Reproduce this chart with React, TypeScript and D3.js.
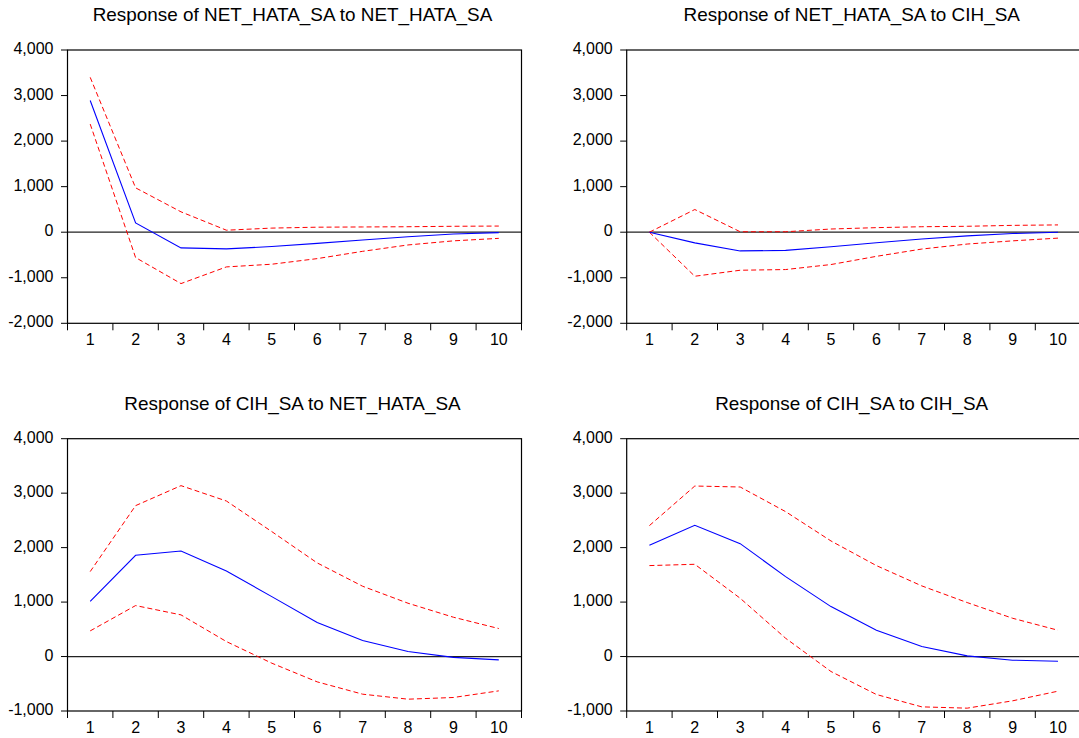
import React from "react";
import * as d3 from "d3";

const periods = [1, 2, 3, 4, 5, 6, 7, 8, 9, 10];

const titles = [
  "Response of NET_HATA_SA to NET_HATA_SA",
  "Response of NET_HATA_SA to CIH_SA",
  "Response of CIH_SA to NET_HATA_SA",
  "Response of CIH_SA to CIH_SA",
];

// Panel 1: NET_HATA_SA -> NET_HATA_SA
const resp11 = [2890, 205, -345, -367, -315, -245, -170, -100, -40, -10];
const upper11 = [3400, 974, 447, 44, 90, 110, 115, 120, 130, 135];
const lower11 = [2374, -557, -1128, -762, -703, -580, -420, -280, -190, -135];

// Panel 2: NET_HATA_SA -> CIH_SA
const resp12 = [0, -235, -411, -400, -320, -230, -150, -80, -30, 0];
const upper12 = [0, 498, 10, 10, 70, 100, 120, 130, 150, 160];
const lower12 = [0, -967, -835, -820, -710, -530, -370, -260, -190, -130];

// Panel 3: CIH_SA -> NET_HATA_SA
const resp21 = [1015, 1859, 1939, 1572, 1100, 624, 294, 92, -15, -61];
const upper21 = [1560, 2771, 3138, 2856, 2294, 1719, 1291, 979, 722, 514];
const lower21 = [471, 936, 765, 275, -122, -465, -691, -783, -752, -630];

// Panel 4: CIH_SA -> CIH_SA
const resp22 = [2043, 2410, 2073, 1468, 917, 483, 183, 12, -67, -86];
const upper22 = [2404, 3131, 3113, 2661, 2122, 1670, 1297, 991, 703, 483];
const lower22 = [1670, 1694, 1070, 336, -275, -697, -924, -948, -813, -636];

const yTicksTop = [-2000, -1000, 0, 1000, 2000, 3000, 4000];
const yTicksBottom = [-1000, 0, 1000, 2000, 3000, 4000];

const fmt = d3
  .formatLocale({ decimal: ".", thousands: ",", grouping: [3], currency: ["", ""], minus: "-" })
  .format(",");

const FONT = "'Liberation Sans', Arial, sans-serif";

type PanelProps = {
  title: string;
  left: number;
  right: number;
  top: number;
  bottom: number;
  yDomain: [number, number];
  yTicks: number[];
  resp: number[];
  upper: number[];
  lower: number[];
};

function Panel(p: PanelProps) {
  const x = d3.scaleBand<number>().domain(periods).range([p.left, p.right]).padding(0);
  const y = d3.scaleLinear().domain(p.yDomain).range([p.bottom, p.top]);
  const bw = x.bandwidth();
  const cx = (d: number) => (x(d) as number) + bw / 2;
  const line = d3
    .line<number>()
    .x((_, i) => cx(periods[i]))
    .y((v) => y(v));
  const boundaries = [...periods.map((d) => x(d) as number), p.right];
  const titleX = (p.left + p.right) / 2 - 2;
  const titleY = p.top - 29;
  return (
    <g>
      <text
        x={0}
        y={0}
        transform={`translate(${titleX},${titleY}) scale(1.08,1)`}
        textAnchor="middle"
        fontFamily={FONT}
        fontSize={17.5}
        fill="#000"
      >
        {p.title}
      </text>
      {/* zero line */}
      <line x1={p.left} x2={p.right} y1={y(0)} y2={y(0)} stroke="#222" strokeWidth={1.2} />
      {/* series */}
      <path d={line(p.upper) || ""} fill="none" stroke="#ff0000" strokeWidth={1} strokeDasharray="5,3" />
      <path d={line(p.lower) || ""} fill="none" stroke="#ff0000" strokeWidth={1} strokeDasharray="5,3" />
      <path d={line(p.resp) || ""} fill="none" stroke="#0000ff" strokeWidth={1.1} />
      {/* frame */}
      <rect
        x={p.left}
        y={p.top}
        width={p.right - p.left}
        height={p.bottom - p.top}
        fill="none"
        stroke="#000"
        strokeWidth={1.2}
      />
      {/* y ticks */}
      {p.yTicks.map((t) => (
        <g key={"y" + t}>
          <line x1={p.left - 6.5} x2={p.left} y1={y(t)} y2={y(t)} stroke="#000" strokeWidth={1} />
          <text
            x={p.left - 14}
            y={y(t) + 4}
            textAnchor="end"
            fontFamily={FONT}
            fontSize={16}
            fill="#000"
          >
            {fmt(t)}
          </text>
        </g>
      ))}
      {/* x ticks */}
      {boundaries.map((b, i) => (
        <line key={"xb" + i} x1={b} x2={b} y1={p.bottom} y2={p.bottom + 7} stroke="#000" strokeWidth={1} />
      ))}
      {periods.map((d) => (
        <text
          key={"xl" + d}
          x={cx(d)}
          y={p.bottom + 21.5}
          textAnchor="middle"
          fontFamily={FONT}
          fontSize={16}
          fill="#000"
        >
          {d}
        </text>
      ))}
    </g>
  );
}

export default function App() {
  const L1 = 67.5,
    R1 = 521.5,
    L2 = 626.7,
    R2 = 1080.7;
  const T1 = 50,
    B1 = 323.3,
    T2 = 438.7,
    B2 = 711;
  return (
    <svg
      width={1079}
      height={738}
      style={{ position: "absolute", left: 0, top: 0, display: "block", background: "#fff" }}
    >
      <rect x={0} y={0} width={1079} height={738} fill="#fff" />
      <Panel
        title={titles[0]}
        left={L1}
        right={R1}
        top={T1}
        bottom={B1}
        yDomain={[-2000, 4000]}
        yTicks={yTicksTop}
        resp={resp11}
        upper={upper11}
        lower={lower11}
      />
      <Panel
        title={titles[1]}
        left={L2}
        right={R2}
        top={T1}
        bottom={B1}
        yDomain={[-2000, 4000]}
        yTicks={yTicksTop}
        resp={resp12}
        upper={upper12}
        lower={lower12}
      />
      <Panel
        title={titles[2]}
        left={L1}
        right={R1}
        top={T2}
        bottom={B2}
        yDomain={[-1000, 4000]}
        yTicks={yTicksBottom}
        resp={resp21}
        upper={upper21}
        lower={lower21}
      />
      <Panel
        title={titles[3]}
        left={L2}
        right={R2}
        top={T2}
        bottom={B2}
        yDomain={[-1000, 4000]}
        yTicks={yTicksBottom}
        resp={resp22}
        upper={upper22}
        lower={lower22}
      />
    </svg>
  );
}
